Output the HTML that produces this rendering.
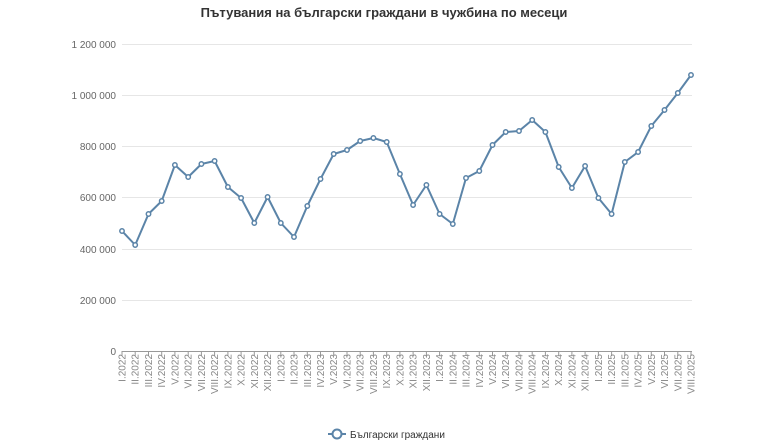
<!DOCTYPE html>
<html><head><meta charset="utf-8"><style>
html,body{margin:0;padding:0;background:#fff;}
svg{display:block;font-family:"Liberation Sans","DejaVu Sans",sans-serif;}
</style></head><body>
<svg width="768" height="443" viewBox="0 0 768 443">
<text x="384" y="17" text-anchor="middle" font-size="13" font-weight="bold" fill="#333">Пътувания на български граждани в чужбина по месеци</text>
<g stroke="#e6e6e6" stroke-width="1">
<line x1="122" y1="44.5" x2="692" y2="44.5"/>
<line x1="122" y1="95.5" x2="692" y2="95.5"/>
<line x1="122" y1="146.5" x2="692" y2="146.5"/>
<line x1="122" y1="197.5" x2="692" y2="197.5"/>
<line x1="122" y1="249.5" x2="692" y2="249.5"/>
<line x1="122" y1="300.5" x2="692" y2="300.5"/>
</g>
<line x1="122" y1="351.5" x2="692" y2="351.5" stroke="#999" stroke-width="1"/>
<g font-size="10" fill="#666" text-anchor="end">
<text x="116" y="48">1 200 000</text>
<text x="116" y="99">1 000 000</text>
<text x="116" y="150">800 000</text>
<text x="116" y="201">600 000</text>
<text x="116" y="253">400 000</text>
<text x="116" y="304">200 000</text>
<text x="116" y="355">0</text>
</g>
<g stroke="#999" stroke-width="1">
<path d="M122,351v5M135.2,351v5M148.5,351v5M161.7,351v5M174.9,351v5M188.2,351v5M201.4,351v5M214.6,351v5M227.9,351v5M241.1,351v5M254.3,351v5M267.6,351v5M280.8,351v5M294,351v5M307.3,351v5M320.5,351v5M333.7,351v5M347,351v5M360.2,351v5M373.4,351v5M386.7,351v5M399.9,351v5M413.1,351v5M426.4,351v5M439.6,351v5M452.8,351v5M466,351v5M479.3,351v5M492.5,351v5M505.7,351v5M519,351v5M532.2,351v5M545.4,351v5M558.7,351v5M571.9,351v5M585.1,351v5M598.4,351v5M611.6,351v5M624.8,351v5M638.1,351v5M651.3,351v5M664.5,351v5M677.8,351v5M691,351v5"/>
</g>
<g font-size="10" fill="#888" text-anchor="end">
<text transform="translate(125.5,354) rotate(-90)">I.2022</text>
<text transform="translate(138.7,354) rotate(-90)">II.2022</text>
<text transform="translate(152,354) rotate(-90)">III.2022</text>
<text transform="translate(165.2,354) rotate(-90)">IV.2022</text>
<text transform="translate(178.4,354) rotate(-90)">V.2022</text>
<text transform="translate(191.7,354) rotate(-90)">VI.2022</text>
<text transform="translate(204.9,354) rotate(-90)">VII.2022</text>
<text transform="translate(218.1,354) rotate(-90)">VIII.2022</text>
<text transform="translate(231.4,354) rotate(-90)">IX.2022</text>
<text transform="translate(244.6,354) rotate(-90)">X.2022</text>
<text transform="translate(257.8,354) rotate(-90)">XI.2022</text>
<text transform="translate(271.1,354) rotate(-90)">XII.2022</text>
<text transform="translate(284.3,354) rotate(-90)">I.2023</text>
<text transform="translate(297.5,354) rotate(-90)">II.2023</text>
<text transform="translate(310.8,354) rotate(-90)">III.2023</text>
<text transform="translate(324,354) rotate(-90)">IV.2023</text>
<text transform="translate(337.2,354) rotate(-90)">V.2023</text>
<text transform="translate(350.5,354) rotate(-90)">VI.2023</text>
<text transform="translate(363.7,354) rotate(-90)">VII.2023</text>
<text transform="translate(376.9,354) rotate(-90)">VIII.2023</text>
<text transform="translate(390.2,354) rotate(-90)">IX.2023</text>
<text transform="translate(403.4,354) rotate(-90)">X.2023</text>
<text transform="translate(416.6,354) rotate(-90)">XI.2023</text>
<text transform="translate(429.9,354) rotate(-90)">XII.2023</text>
<text transform="translate(443.1,354) rotate(-90)">I.2024</text>
<text transform="translate(456.3,354) rotate(-90)">II.2024</text>
<text transform="translate(469.5,354) rotate(-90)">III.2024</text>
<text transform="translate(482.8,354) rotate(-90)">IV.2024</text>
<text transform="translate(496,354) rotate(-90)">V.2024</text>
<text transform="translate(509.2,354) rotate(-90)">VI.2024</text>
<text transform="translate(522.5,354) rotate(-90)">VII.2024</text>
<text transform="translate(535.7,354) rotate(-90)">VIII.2024</text>
<text transform="translate(548.9,354) rotate(-90)">IX.2024</text>
<text transform="translate(562.2,354) rotate(-90)">X.2024</text>
<text transform="translate(575.4,354) rotate(-90)">XI.2024</text>
<text transform="translate(588.6,354) rotate(-90)">XII.2024</text>
<text transform="translate(601.9,354) rotate(-90)">I.2025</text>
<text transform="translate(615.1,354) rotate(-90)">II.2025</text>
<text transform="translate(628.3,354) rotate(-90)">III.2025</text>
<text transform="translate(641.6,354) rotate(-90)">IV.2025</text>
<text transform="translate(654.8,354) rotate(-90)">V.2025</text>
<text transform="translate(668,354) rotate(-90)">VI.2025</text>
<text transform="translate(681.3,354) rotate(-90)">VII.2025</text>
<text transform="translate(694.5,354) rotate(-90)">VIII.2025</text>
</g>
<polyline fill="none" stroke="#5b84a8" stroke-width="2" stroke-linejoin="round" points="122,231 135.2,245 148.5,214 161.7,201 174.9,165 188.2,177 201.4,164 214.6,161 227.9,187 241.1,198 254.3,223 267.6,197 280.8,223 294,237 307.3,206 320.5,179 333.7,154 347,150 360.2,141 373.4,138 386.7,142 399.9,174 413.1,205 426.4,185 439.6,214 452.8,224 466,178 479.3,171 492.5,145 505.7,132 519,131 532.2,120 545.4,132 558.7,167 571.9,188 585.1,166 598.4,198 611.6,214 624.8,162 638.1,152 651.3,126 664.5,110 677.8,93 691,75"/>
<g fill="#fff" stroke="#5b84a8" stroke-width="1.5">
<circle cx="122" cy="231" r="2.2"/><circle cx="135.2" cy="245" r="2.2"/><circle cx="148.5" cy="214" r="2.2"/><circle cx="161.7" cy="201" r="2.2"/><circle cx="174.9" cy="165" r="2.2"/><circle cx="188.2" cy="177" r="2.2"/><circle cx="201.4" cy="164" r="2.2"/><circle cx="214.6" cy="161" r="2.2"/><circle cx="227.9" cy="187" r="2.2"/><circle cx="241.1" cy="198" r="2.2"/><circle cx="254.3" cy="223" r="2.2"/><circle cx="267.6" cy="197" r="2.2"/><circle cx="280.8" cy="223" r="2.2"/><circle cx="294" cy="237" r="2.2"/><circle cx="307.3" cy="206" r="2.2"/><circle cx="320.5" cy="179" r="2.2"/><circle cx="333.7" cy="154" r="2.2"/><circle cx="347" cy="150" r="2.2"/><circle cx="360.2" cy="141" r="2.2"/><circle cx="373.4" cy="138" r="2.2"/><circle cx="386.7" cy="142" r="2.2"/><circle cx="399.9" cy="174" r="2.2"/><circle cx="413.1" cy="205" r="2.2"/><circle cx="426.4" cy="185" r="2.2"/><circle cx="439.6" cy="214" r="2.2"/><circle cx="452.8" cy="224" r="2.2"/><circle cx="466" cy="178" r="2.2"/><circle cx="479.3" cy="171" r="2.2"/><circle cx="492.5" cy="145" r="2.2"/><circle cx="505.7" cy="132" r="2.2"/><circle cx="519" cy="131" r="2.2"/><circle cx="532.2" cy="120" r="2.2"/><circle cx="545.4" cy="132" r="2.2"/><circle cx="558.7" cy="167" r="2.2"/><circle cx="571.9" cy="188" r="2.2"/><circle cx="585.1" cy="166" r="2.2"/><circle cx="598.4" cy="198" r="2.2"/><circle cx="611.6" cy="214" r="2.2"/><circle cx="624.8" cy="162" r="2.2"/><circle cx="638.1" cy="152" r="2.2"/><circle cx="651.3" cy="126" r="2.2"/><circle cx="664.5" cy="110" r="2.2"/><circle cx="677.8" cy="93" r="2.2"/><circle cx="691" cy="75" r="2.2"/>
</g>
<line x1="328" y1="434" x2="346" y2="434" stroke="#5b84a8" stroke-width="2"/>
<circle cx="337" cy="434" r="4.5" fill="#fff" stroke="#5b84a8" stroke-width="2"/>
<text x="350" y="438" font-size="10" fill="#333">Български граждани</text>
</svg>
</body></html>
